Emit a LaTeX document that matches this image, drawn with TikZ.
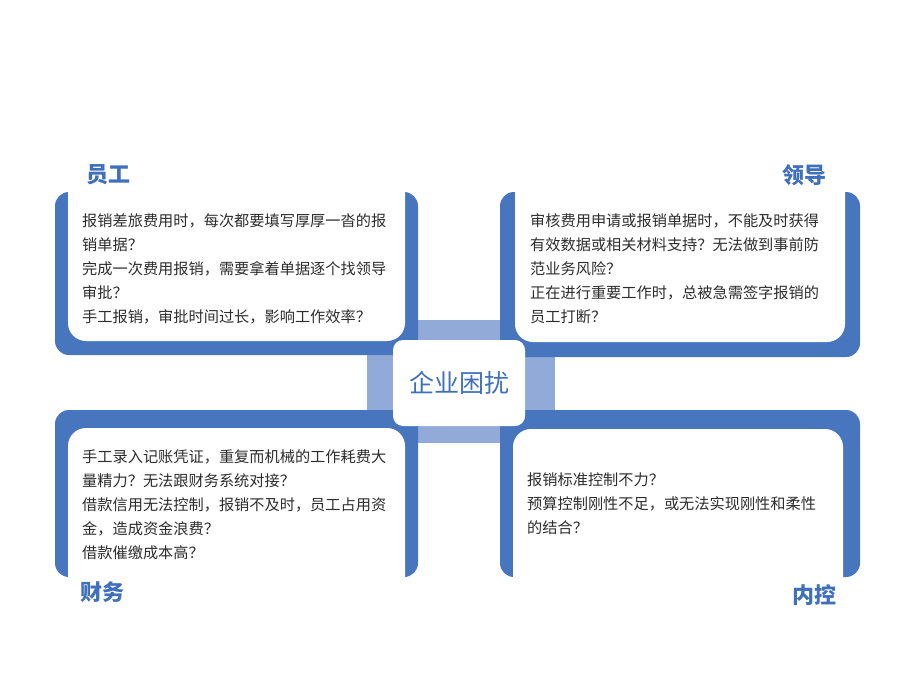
\documentclass[tikz,border=0pt]{standalone}
\usepackage{fontspec}
\newfontfamily\cjk{Noto Sans CJK SC}
\definecolor{panelblue}{RGB}{72,118,190}
\definecolor{lightblue}{RGB}{146,170,215}
\definecolor{titleblue}{RGB}{64,112,188}
\definecolor{txtgray}{RGB}{45,45,45}
\tikzset{
  bluepanel/.style={fill=panelblue, draw=none, rounded corners=14pt},
  whitepanel/.style={fill=white, draw=none, rounded corners=18pt},
  bodytext/.style={font=\cjk\fontsize{15.2}{24}\selectfont, text=txtgray, align=left, inner sep=0pt, anchor=north west},
  titletext/.style={font=\cjk\bfseries\fontsize{22}{24}\selectfont, text=titleblue, inner sep=0pt},
  centerbox/.style={fill=white, draw=none, rounded corners=10pt, minimum width=132pt, minimum height=86pt, inner sep=0pt,
     font=\cjk\fontsize{25}{28}\selectfont, text=titleblue}
}
\begin{document}
\begin{tikzpicture}[x=1pt,y=-1pt]
\useasboundingbox (0,0) rectangle (920,690);
% light blue cross
\fill[lightblue] (367,355) rectangle (555,410);
\fill[lightblue] (418,320) rectangle (500,443);
% blue panels
\fill[bluepanel] (55,192) rectangle (418,355);
\fill[bluepanel] (500,192) rectangle (860,357);
\fill[bluepanel] (55,410) rectangle (418,577);
\fill[bluepanel] (500,410) rectangle (860,577);
% white inner panels
\fill[whitepanel] (68,170) rectangle (405,341);
\fill[whitepanel] (515,170) rectangle (845,342);
\fill[whitepanel] (68,428) rectangle (405,600);
\fill[whitepanel] (513,429) rectangle (843,600);
% center
\node[centerbox] (center) at (459,383) {企业困扰};
% titles
\node[titletext] (t1) at (108,175) {员工};
\node[titletext] (t2) at (804,175) {领导};
\node[titletext] (t3) at (102,592) {财务};
\node[titletext] (t4) at (814,595) {内控};
% texts
\node[bodytext] (p1) at (82,213) {报销差旅费用时，每次都要填写厚厚一沓的报\\销单据？\\完成一次费用报销，需要拿着单据逐个找领导\\审批？\\手工报销，审批时间过长，影响工作效率？};
\node[bodytext] (p2) at (530,213) {审核费用申请或报销单据时，不能及时获得\\有效数据或相关材料支持？无法做到事前防\\范业务风险？\\正在进行重要工作时，总被急需签字报销的\\员工打断？};
\node[bodytext] (p3) at (82,449) {手工录入记账凭证，重复而机械的工作耗费大\\量精力？无法跟财务系统对接？\\借款信用无法控制，报销不及时，员工占用资\\金，造成资金浪费？\\借款催缴成本高？};
\node[bodytext] (p4) at (527,473) {报销标准控制不力？\\预算控制刚性不足，或无法实现刚性和柔性\\的结合？};
\end{tikzpicture}
\end{document}
